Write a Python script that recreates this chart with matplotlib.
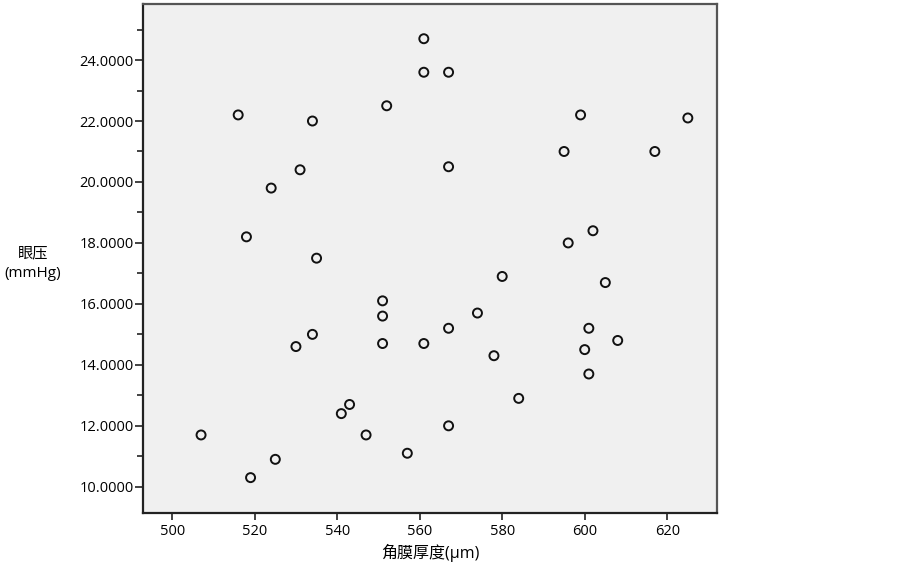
import matplotlib
matplotlib.use("Agg")
import matplotlib.pyplot as plt
from matplotlib.ticker import MultipleLocator, FormatStrFormatter

plt.rcParams['font.family'] = ['Open Sans', 'Noto Sans CJK SC', 'DejaVu Sans']

# 角膜厚度 (μm)
thickness = [561, 561, 567, 552, 516, 534, 599, 625, 595, 617, 531, 567, 524, 518,
             602, 596, 535, 580, 605, 551, 551, 574, 567, 601, 534, 530, 551, 561,
             608, 600, 578, 601, 584, 543, 541, 567, 507, 547, 557, 525, 519]
# 眼压 (mmHg)
iop = [24.7, 23.6, 23.6, 22.5, 22.2, 22.0, 22.2, 22.1, 21.0, 21.0, 20.4, 20.5, 19.8, 18.2,
       18.4, 18.0, 17.5, 16.9, 16.7, 16.1, 15.6, 15.7, 15.2, 15.2, 15.0, 14.6, 14.7, 14.7,
       14.8, 14.5, 14.3, 13.7, 12.9, 12.7, 12.4, 12.0, 11.7, 11.7, 11.1, 10.9, 10.3]

xlabel = "角膜厚度(μm)"
ylabel = "眼压\n(mmHg)"

fig = plt.figure(figsize=(9.03, 5.68), dpi=100)
ax = fig.add_axes([0.1587, 0.0974, 0.635, 0.8956])
ax.set_facecolor('#f0f0f0')

ax.scatter(thickness, iop, s=42, facecolors='none', edgecolors='#111111', linewidths=1.4, zorder=3)

ax.set_xlim(493, 632)
ax.set_ylim(9.15, 25.84)
ax.xaxis.set_major_locator(MultipleLocator(20))
ax.yaxis.set_major_locator(MultipleLocator(2))
ax.yaxis.set_minor_locator(MultipleLocator(1))
ax.yaxis.set_major_formatter(FormatStrFormatter('%.4f'))

for s in ['left', 'bottom']:
    ax.spines[s].set_color('#222222')
    ax.spines[s].set_linewidth(1.6)
for s in ['top', 'right']:
    ax.spines[s].set_color('#555555')
    ax.spines[s].set_linewidth(1.6)

ax.tick_params(axis='y', which='major', length=6, width=1.2, labelsize=10.5, color='#222222', pad=1)
ax.tick_params(axis='y', which='minor', length=4, width=1.2, color='#222222')
ax.tick_params(axis='x', which='major', length=5, width=1.2, labelsize=10.5, color='#222222', pad=3)

fig.text(430/903, 1 - 553/568, xlabel, ha='center', va='center', fontsize=11.5)
fig.text(33/903, 1 - 264/568, ylabel, ha='center', va='center', fontsize=11, linespacing=1.45)

fig.savefig('out.png', dpi=100)
